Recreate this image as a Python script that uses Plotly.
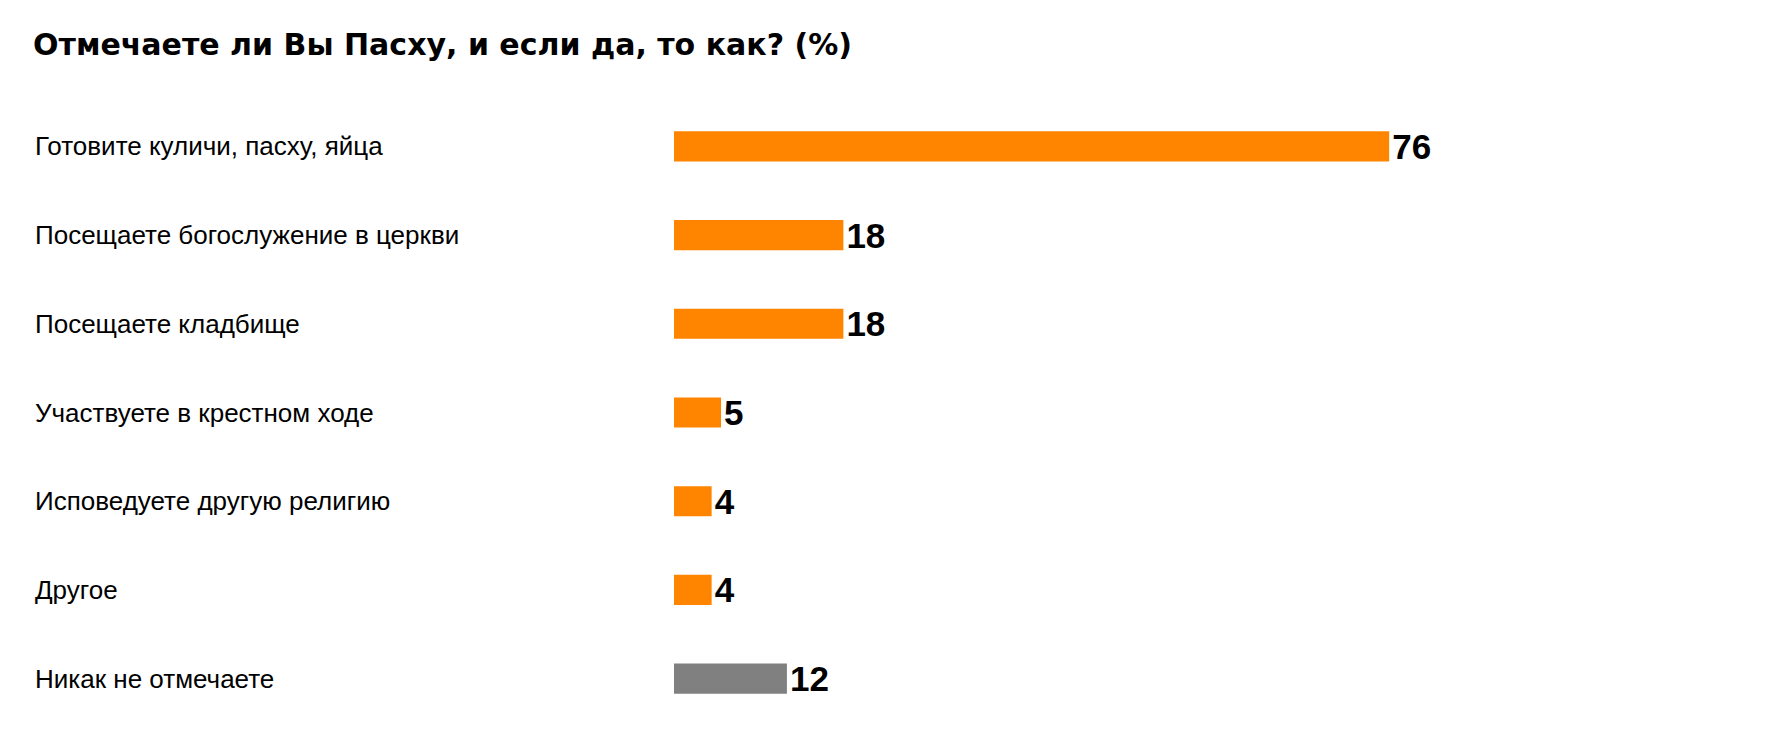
import plotly.graph_objects as go

categories = ["Готовите куличи, пасху, яйца", "Посещаете богослужение в церкви", "Посещаете кладбище",
              "Участвуете в крестном ходе", "Исповедуете другую религию", "Другое", "Никак не отмечаете"]
values = [76, 18, 18, 5, 4, 4, 12]
colors = ["#FF8400"] * 6 + ["#808080"]

W, H = 1788, 734
left, right, top, bottom = 666, 222, 94, 19
plot_w = W - left - right

fig = go.Figure(go.Bar(
    x=values, y=categories, orientation="h", width=0.34,
    marker=dict(color=colors, line=dict(width=0)),
    text=[f"<b>{v}</b>" for v in values], textposition="outside",
    constraintext="none",
    textfont=dict(family="Liberation Sans", size=35, color="black"),
    cliponaxis=False,
))

for c in categories:
    fig.add_annotation(x=-(left - 25) / plot_w, xref="paper", y=c, yref="y",
                       text=c, showarrow=False, xanchor="left",
                       font=dict(family="Liberation Sans", size=26, color="black"))

fig.update_layout(
    width=W, height=H, margin=dict(l=left, r=right, t=top, b=bottom),
    plot_bgcolor="white", paper_bgcolor="white", showlegend=False,
    title=dict(text="<b>Отмечаете ли Вы Пасху, и если да, то как? (%)</b>", x=25 / W, xanchor="left",
               y=1 - 36 / H, yanchor="middle",
               font=dict(family="DejaVu Sans", size=30, color="black")),
    xaxis=dict(range=[0, plot_w / 9.41], visible=False),
    yaxis=dict(range=[6.5, -0.5], showticklabels=False, showgrid=False, zeroline=False),
)

fig.write_html("out.html")
